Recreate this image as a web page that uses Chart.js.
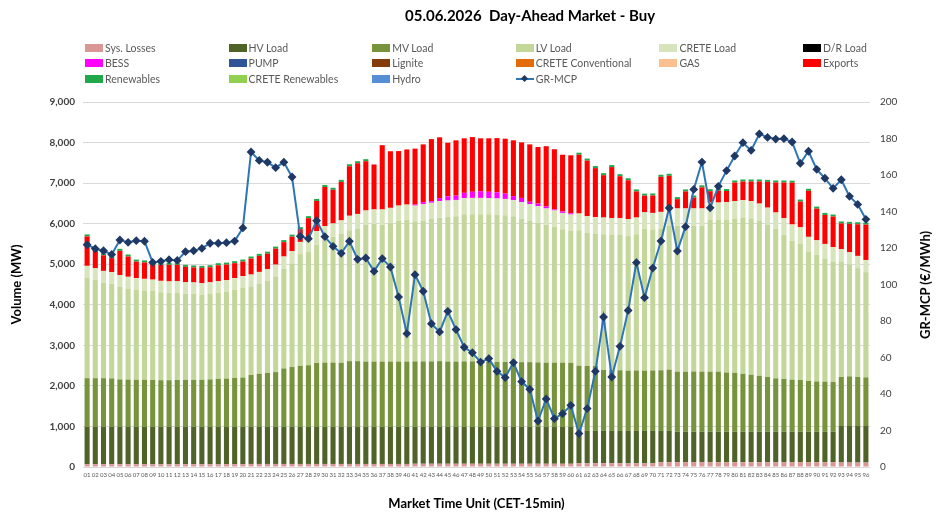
<!DOCTYPE html>
<html>
<head>
<meta charset="utf-8">
<script src="https://cdn.jsdelivr.net/npm/chart.js@4.4.1/dist/chart.umd.min.js"></script>
<style>
  body { margin: 0; background: #fff; }
  #wrap { position: relative; width: 942px; height: 530px; font-family: Lato, 'Open Sans', sans-serif; }
  #title { position: absolute; left: 405px; top: 6px; font-size: 15px; font-weight: bold; color: #000; white-space: pre; }
  #legend { position: absolute; left: 85px; top: 40px; display: grid; grid-template-columns: repeat(6, 143.6px); grid-auto-rows: 15.5px; }
  .item { display: flex; align-items: center; font-size: 10.5px; color: #595959; white-space: nowrap; }
  .sw { width: 18px; height: 8px; margin-right: 2px; position: relative; }
  .sw.line::before { content: ''; position: absolute; left: 0; right: 0; top: 3px; height: 2px; background: #2E75B6; }
  .sw.line::after { content: ''; position: absolute; left: 6px; top: 1px; width: 5px; height: 5px; background: #1F3864; transform: rotate(45deg); }
  #rtitle { position: absolute; left: 925px; top: 285px; transform: translate(-50%, -50%) rotate(-90deg); font-size: 13px; font-weight: bold; color: #000; white-space: nowrap; }
</style>
</head>
<body>
<div id="wrap">
  <canvas id="chart" width="942" height="530"></canvas>
  <div id="title">05.06.2026  Day-Ahead Market - Buy</div>
  <div id="legend"></div>
  <div id="rtitle">GR-MCP (€/MWh)</div>
</div>
<script>
// market time units (15 min)
const mtu = ['01','02','03','04','05','06','07','08','09','10','11','12','13','14','15','16','17','18','19','20',
  '21','22','23','24','25','26','27','28','29','30','31','32','33','34','35','36','37','38','39','40',
  '41','42','43','44','45','46','47','48','49','50','51','52','53','54','55','56','57','58','59','60',
  '61','62','63','64','65','66','67','68','69','70','71','72','73','74','75','76','77','78','79','80',
  '81','82','83','84','85','86','87','88','89','90','91','92','93','94','95','96'];

// volumes in MW
const sysLosses = [70,70,70,70,70,70,70,70,70,70,70,70,70,70,70,70,70,70,70,70,
  75,75,75,75,75,75,75,75,75,75,75,75,75,75,75,75,75,75,75,75,
  80,80,80,80,80,80,80,80,80,80,80,80,80,80,80,80,80,80,80,80,
  95,95,95,95,95,95,95,95,95,95,120,120,120,120,120,120,120,120,120,120,
  120,120,120,120,120,120,120,120,120,120,120,120,110,110,110,110];
const hvLoad = [920,920,920,920,920,920,920,920,920,920,920,920,920,920,920,920,920,920,920,920,
  915,915,915,915,915,915,915,915,915,915,915,915,915,915,915,915,915,915,915,915,
  910,910,910,910,910,910,910,910,910,910,910,910,910,910,910,910,910,910,910,910,
  795,795,795,795,795,795,795,795,795,795,770,770,750,750,750,750,750,750,750,750,
  750,750,750,750,750,750,750,750,750,750,750,750,900,900,900,900];
const mvLoad = [1200,1200,1200,1195,1170,1165,1160,1160,1155,1150,1150,1155,1160,1160,1160,1170,1185,1190,1205,1215,
  1280,1310,1330,1350,1440,1475,1505,1520,1575,1585,1585,1580,1620,1620,1610,1610,1610,1610,1610,1610,
  1615,1615,1615,1620,1610,1610,1615,1615,1610,1605,1600,1600,1600,1595,1595,1590,1585,1585,1585,1580,
  1610,1605,1600,1505,1500,1495,1485,1490,1485,1490,1495,1510,1480,1480,1485,1480,1480,1480,1460,1450,
  1425,1405,1380,1350,1315,1300,1285,1275,1250,1240,1235,1225,1210,1225,1210,1200];
const lvLoad = [2480,2420,2355,2330,2280,2245,2215,2200,2195,2170,2155,2155,2125,2120,2100,2115,2125,2145,2180,2220,
  2185,2220,2265,2360,2460,2555,2755,2790,2920,3035,3100,3180,3225,3270,3365,3390,3370,3410,3465,3490,
  3440,3475,3510,3545,3570,3585,3625,3630,3635,3635,3630,3620,3590,3545,3495,3450,3400,3350,3290,3255,
  3340,3280,3260,3345,3340,3345,3330,3360,3495,3475,3495,3545,3595,3595,3590,3595,3740,3740,3775,3805,
  3855,3850,3815,3745,3690,3565,3425,3365,3195,3120,3035,2970,2850,2760,2685,2595];
const creteLoad = [290,290,290,290,290,290,290,290,280,280,280,280,280,280,280,280,280,280,280,280,
  290,290,290,290,300,300,300,300,330,330,330,330,360,360,360,360,380,380,380,380,
  400,400,400,400,400,400,400,400,400,400,400,400,400,400,400,400,400,400,400,400,
  410,410,410,410,410,410,410,410,410,410,410,410,430,430,430,430,430,430,430,430,
  430,430,430,430,400,400,400,400,360,360,360,360,300,300,300,300];
const drLoad = [];
const bess = [0,0,0,0,0,0,0,0,0,0,0,0,0,0,0,0,0,0,0,0,
  0,0,0,0,0,0,0,0,0,0,0,0,0,0,0,0,0,0,0,0,
  25,50,40,75,105,105,130,150,165,155,155,130,100,105,60,65,50,25,35,30,
  0,0,0,0,0,0,0,0,0,0,0,0,0,0,0,0,0,0,0,0,
  0,0,0,0,0,0,0,0,0,0,0,0,0,0,0,0];
const pump = [];
const lignite = [];
const creteConv = [];
const gas = [];
const exportsMW = [725,470,385,345,600,500,410,405,405,395,410,405,380,370,380,370,395,385,370,360,
  395,395,385,395,355,360,315,535,745,965,830,950,1220,1250,1215,1110,1585,1395,1345,1360,
  1380,1425,1530,1500,1320,1365,1345,1350,1305,1320,1335,1355,1375,1370,1415,1395,1485,1485,1400,1430,
  1450,1370,1210,1045,1255,1030,955,645,410,430,865,825,230,420,270,520,280,295,270,460,
  460,485,545,635,740,880,1030,635,1135,780,715,750,635,700,780,870];
const renewables = [50,50,50,50,50,50,50,50,50,50,50,50,50,50,50,50,50,50,50,50,
  50,50,50,50,50,50,50,50,50,50,50,50,50,50,50,0,0,0,0,0,
  0,0,0,0,0,0,0,0,0,0,0,0,0,0,0,0,0,0,0,0,
  50,50,50,50,50,50,50,50,50,50,50,50,50,50,50,50,50,50,50,50,
  50,50,50,50,50,50,50,50,50,50,50,50,50,50,50,50];
const creteRen = [];
const hydro = [];

// GR market clearing price, €/MWh
const grMcp = [121.8,119.6,118.5,116.5,124.4,123.1,124,123.7,112.1,112.7,113.6,113.2,118,118.5,119.8,122.6,122.6,122.9,123.8,131,
  172.6,168,167,164,167,158.9,126.4,125.1,135,126.2,120.9,117.1,123.7,113.8,114.5,107.2,114.2,109.6,93.2,73.1,
  105.4,96.3,78.5,74,85.3,75.3,65.6,62.6,57.5,59.4,52.4,49,57.2,46.8,42.6,25.2,37.3,26.5,29.2,33.8,
  18.3,32,52.4,82.2,49.3,66.1,85.8,112,92.8,109,123.8,141.9,118.3,131.7,152.1,167.1,142,153.8,162.4,170.4,
  177.7,173.5,182.5,180.6,179.7,179.9,178.1,166.4,173,163.1,158.2,152.7,157.4,148.3,143.9,135.7];

Chart.defaults.font.family = 'Lato, "Open Sans", sans-serif';

const bar = (label, data, color) => ({
  type: 'bar', label, data, backgroundColor: color, stack: 'buy', yAxisID: 'y', order: 1,
  categoryPercentage: 1, barPercentage: 0.62
});

const datasets = [
  bar('Sys. Losses', sysLosses, '#D99694'),
  bar('HV Load', hvLoad, '#4F6228'),
  bar('MV Load', mvLoad, '#77933C'),
  bar('LV Load', lvLoad, '#C4D79B'),
  bar('CRETE Load', creteLoad, '#D8E4BC'),
  bar('D/R Load', drLoad, '#000000'),
  bar('BESS', bess, '#FF00FF'),
  bar('PUMP', pump, '#2F5597'),
  bar('Lignite', lignite, '#843C0C'),
  bar('CRETE Conventional', creteConv, '#E36C09'),
  bar('GAS', gas, '#FAC090'),
  bar('Exports', exportsMW, '#FF0000'),
  bar('Renewables', renewables, '#21A84A'),
  bar('CRETE Renewables', creteRen, '#92D050'),
  bar('Hydro', hydro, '#558ED5'),
  {
    type: 'line', label: 'GR-MCP', data: grMcp, yAxisID: 'y1', order: 0,
    borderColor: '#2E75B6', borderWidth: 2, tension: 0,
    pointStyle: 'rectRot', pointRadius: 3,
    pointBackgroundColor: '#1F3864', pointBorderColor: '#1F3864'
  }
];

const chart = new Chart(document.getElementById('chart'), {
  data: { labels: mtu, datasets },
  options: {
    responsive: false,
    animation: false,
    devicePixelRatio: 1,
    layout: { padding: { top: 102, left: 0, right: 0, bottom: 0 } },
    plugins: { legend: { display: false }, title: { display: false }, tooltip: { enabled: false } },
    scales: {
      x: {
        stacked: true,
        grid: { display: false, drawTicks: false },
        border: { display: false },
        ticks: { autoSkip: false, maxRotation: 0, minRotation: 0, font: { size: 6 }, color: '#595959', padding: 4 },
        title: { display: true, text: 'Market Time Unit (CET-15min)', font: { size: 13, weight: 'bold' }, color: '#000', padding: { top: 0, bottom: 18 } },
        afterFit: s => { s.height = 63; }
      },
      y: {
        stacked: true, min: 0, max: 9000,
        grid: { color: '#D9D9D9', drawTicks: false },
        border: { display: false },
        ticks: { stepSize: 1000, font: { size: 10, weight: 'bold' }, color: '#404040', padding: 8 },
        title: { display: true, text: 'Volume (MW)', font: { size: 13, weight: 'bold' }, color: '#000', padding: { top: 9, bottom: 0 } },
        afterFit: s => { s.width = 83; }
      },
      y1: {
        position: 'right', min: 0, max: 200,
        grid: { display: false, drawTicks: false },
        border: { display: false },
        ticks: { stepSize: 20, font: { size: 10 }, color: '#404040', padding: 10 },
        afterFit: s => { s.width = 72; }
      }
    }
  }
});

// legend in a 6-column grid like the original
const legend = document.getElementById('legend');
chart.data.datasets.forEach(ds => {
  const item = document.createElement('div');
  item.className = 'item';
  const sw = document.createElement('span');
  sw.className = 'sw';
  if (ds.type === 'line') sw.classList.add('line');
  else sw.style.background = ds.backgroundColor;
  item.appendChild(sw);
  item.appendChild(document.createTextNode(ds.label));
  legend.appendChild(item);
});
</script>
</body>
</html>
